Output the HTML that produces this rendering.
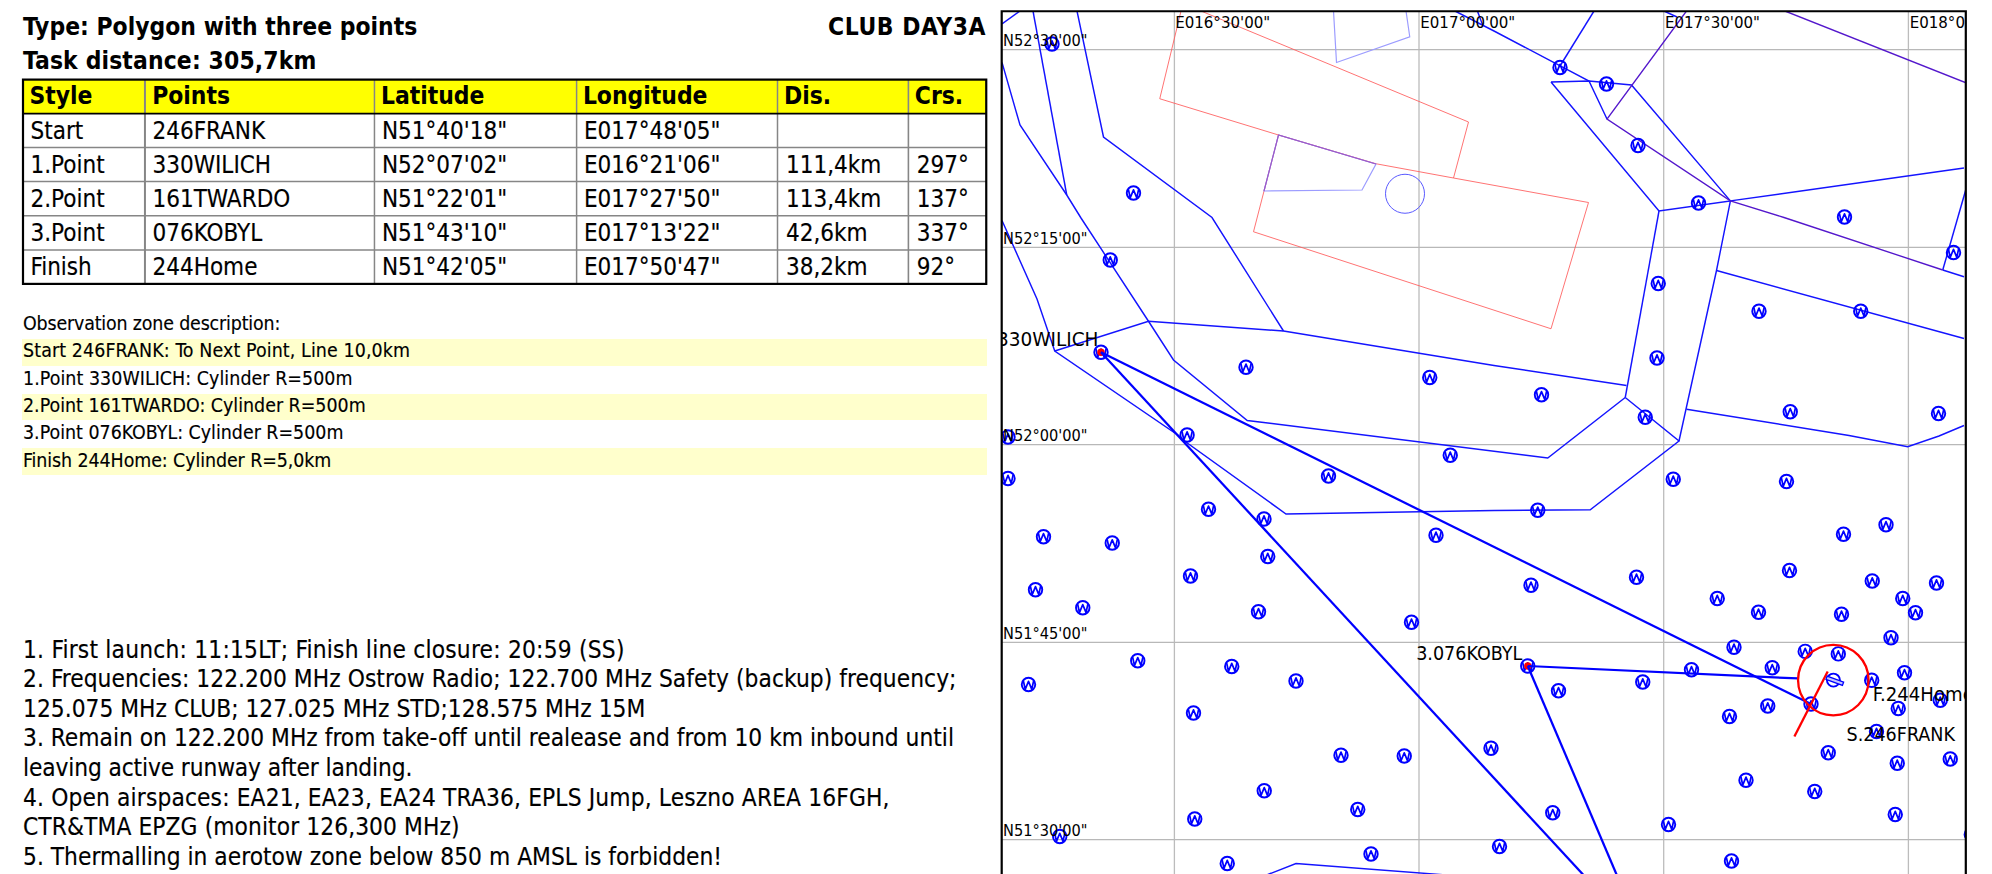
<!DOCTYPE html><html><head><meta charset="utf-8"><title>CLUB DAY3A task sheet</title><style>
html,body{margin:0;padding:0;background:#fff;}
body{width:1992px;height:874px;position:relative;overflow:hidden;font-family:'DejaVu Sans Condensed','DejaVu Sans','Liberation Sans',sans-serif;color:#000;}
.map{position:absolute;left:0;top:0;}
.h{position:absolute;left:23px;font-weight:bold;font-size:24.4px;line-height:34px;white-space:nowrap;}
#t1{top:10px;} #t2{top:44.1px;}
#cls{left:auto;right:1006px;top:10px;}
table{position:absolute;left:23px;top:79.6px;width:963.5px;height:204.3px;font-size:24px;border:0;
 display:grid;grid-template-columns:121.95px 229.5px 201.95px 201.1px 130.9px 1fr;grid-template-rows:34.05px 33.9px 34px 34.15px 34.2px 1fr;}
thead,tbody,tr{display:contents;}
td,th{display:block;box-sizing:border-box;padding:1px 0 0 7.5px;line-height:32px;text-align:left;white-space:nowrap;overflow:hidden;font-weight:normal;}
th{background:#ffff00;font-weight:bold;font-size:24.4px;padding:0.5px 0 0 6.5px;}
td:nth-child(n+5){padding-left:8.5px;}
th:nth-child(2){padding-left:7.2px;}
.oz{position:absolute;left:22px;width:965px;font-size:19.4px;line-height:21.7px;height:26.4px;white-space:nowrap;padding-left:1px;box-sizing:border-box;}
.y{background:#ffffcc;}
.n{position:absolute;left:23px;font-size:24.25px;line-height:29.5px;white-space:nowrap;}
.n,.oz,td{-webkit-text-stroke:0.15px #000;}
</style></head><body>
<div class="h" id="t1" style="letter-spacing:0.017px;">Type: Polygon with three points</div>
<div class="h" id="t2" style="letter-spacing:0.143px;">Task distance: 305,7km</div>
<div class="h" id="cls" style="letter-spacing:0.550px;">CLUB DAY3A</div>
<table>
<thead><tr><th>Style</th><th>Points</th><th>Latitude</th><th>Longitude</th><th>Dis.</th><th>Crs.</th></tr></thead><tbody>
<tr><td>Start</td><td>246FRANK</td><td>N51°40'18"</td><td>E017°48'05"</td><td></td><td></td></tr>
<tr><td>1.Point</td><td>330WILICH</td><td>N52°07'02"</td><td>E016°21'06"</td><td>111,4km</td><td>297°</td></tr>
<tr><td>2.Point</td><td>161TWARDO</td><td>N51°22'01"</td><td>E017°27'50"</td><td>113,4km</td><td>137°</td></tr>
<tr><td>3.Point</td><td>076KOBYL</td><td>N51°43'10"</td><td>E017°13'22"</td><td>42,6km</td><td>337°</td></tr>
<tr><td>Finish</td><td>244Home</td><td>N51°42'05"</td><td>E017°50'47"</td><td>38,2km</td><td>92°</td></tr>
</tbody></table>
<div class="oz" style="top:312.9px;letter-spacing:-0.161px;">Observation zone description:</div>
<div class="oz y" style="top:339.20px;padding-top:1.02px;letter-spacing:0.110px;">Start 246FRANK: To Next Point, Line 10,0km</div>
<div class="oz" style="top:366.45px;padding-top:1.13px;letter-spacing:0.061px;">1.Point 330WILICH: Cylinder R=500m</div>
<div class="oz y" style="top:393.70px;padding-top:1.24px;letter-spacing:0.000px;">2.Point 161TWARDO: Cylinder R=500m</div>
<div class="oz" style="top:420.95px;padding-top:1.35px;letter-spacing:0.003px;">3.Point 076KOBYL: Cylinder R=500m</div>
<div class="oz y" style="top:448.20px;padding-top:1.46px;letter-spacing:-0.077px;">Finish 244Home: Cylinder R=5,0km</div>
<div class="n" style="top:634.70px;letter-spacing:0.216px;">1. First launch: 11:15LT; Finish line closure: 20:59 (SS)</div>
<div class="n" style="top:664.26px;letter-spacing:0.053px;">2. Frequencies: 122.200 MHz Ostrow Radio; 122.700 MHz Safety (backup) frequency;</div>
<div class="n" style="top:693.82px;letter-spacing:0.017px;">125.075 MHz CLUB; 127.025 MHz STD;128.575 MHz 15M</div>
<div class="n" style="top:723.38px;letter-spacing:0.009px;">3. Remain on 122.200 MHz from take-off until realease and from 10 km inbound until</div>
<div class="n" style="top:752.94px;letter-spacing:-0.120px;">leaving active runway after landing.</div>
<div class="n" style="top:782.50px;letter-spacing:0.142px;">4. Open airspaces: EA21, EA23, EA24 TRA36, EPLS Jump, Leszno AREA 16FGH,</div>
<div class="n" style="top:812.06px;letter-spacing:0.091px;">CTR&amp;TMA EPZG (monitor 126,300 MHz)</div>
<div class="n" style="top:841.62px;letter-spacing:0.015px;">5. Thermalling in aerotow zone below 850 m AMSL is forbidden!</div>
<svg class="map" width="1992" height="874" viewBox="0 0 1992 874">
<defs><clipPath id="mc"><rect x="1002" y="11" width="963.8" height="870"/></clipPath>
<g id="wp"><circle r="6.75" fill="none" stroke="#0000ff" stroke-width="1.9"/><polyline points="-5.1,-3.6 -3.3,4.8 0,-3.1 3.3,4.8 5.1,-3.6" fill="none" stroke="#0000ff" stroke-width="1.7" stroke-linejoin="round"/></g></defs>
<g clip-path="url(#mc)" fill="none">
<line x1="1174.4" y1="11" x2="1174.4" y2="874" stroke="#bcbcbc" stroke-width="1.3"/>
<line x1="1419.0" y1="11" x2="1419.0" y2="874" stroke="#bcbcbc" stroke-width="1.3"/>
<line x1="1663.7" y1="11" x2="1663.7" y2="874" stroke="#bcbcbc" stroke-width="1.3"/>
<line x1="1908.4" y1="11" x2="1908.4" y2="874" stroke="#bcbcbc" stroke-width="1.3"/>
<line x1="1002" y1="49.7" x2="1965" y2="49.7" stroke="#b8b8b8" stroke-width="1.3"/>
<line x1="1002" y1="247.4" x2="1965" y2="247.4" stroke="#b8b8b8" stroke-width="1.3"/>
<line x1="1002" y1="444.6" x2="1965" y2="444.6" stroke="#b8b8b8" stroke-width="1.3"/>
<line x1="1002" y1="642.3" x2="1965" y2="642.3" stroke="#b8b8b8" stroke-width="1.3"/>
<line x1="1002" y1="839.6" x2="1965" y2="839.6" stroke="#b8b8b8" stroke-width="1.3"/>
<polyline points="1181,11 1159.75,98.75 1278.5,135 1376,163.75 1453.5,178 1468.5,122 1201,11" stroke="#ff5a5a" stroke-width="0.85"/>
<polyline points="1278.5,135 1253.5,231.75 1551,328.75 1588.5,202.5 1453.5,178" stroke="#ff5a5a" stroke-width="0.85"/>
<polyline points="1278.5,135 1376,164 1362,190 1264,191 1278.5,135" stroke="#9c9cff" stroke-width="1.2"/>
<polyline points="1333.5,11 1336.5,62.5 1409.75,36.75 1406,11" stroke="#9c9cff" stroke-width="1.2"/>
<polyline points="1264,191 1278.5,135 1376,164" stroke="#9a58c8" stroke-width="1.1"/>
<circle cx="1405" cy="193.75" r="19.5" stroke="#5a5aff" stroke-width="1"/>
<polyline points="1020,11 1002,24" stroke="#1414ff" stroke-width="1.45"/>
<polyline points="1033,11 1066.75,195" stroke="#1414ff" stroke-width="1.45"/>
<polyline points="1002,62.5 1020,125 1066.75,195 1081,218 1148.5,321.25 1173.5,360 1247.25,420.5 1547.75,458 1625.25,397.5" stroke="#1414ff" stroke-width="1.45"/>
<polyline points="1077,11 1103.5,137 1212,217.5 1283.5,331" stroke="#1414ff" stroke-width="1.45"/>
<polyline points="1054.75,351 1148.5,321.25 1283.5,331 1494,365.5 1626.5,385.5" stroke="#1414ff" stroke-width="1.45"/>
<polyline points="1002,220.5 1037,299 1054.75,351 1178.5,435.5 1181,438.5 1286,514 1494,510.5 1590.25,509.75 1679,441 1625.25,397.5" stroke="#1414ff" stroke-width="1.45"/>
<polyline points="1659,211 1625.25,397.5" stroke="#1414ff" stroke-width="1.45"/>
<polyline points="1551,82 1589,81 1631.5,85 1730.4,200.9 1659,211 1551,82" stroke="#1414ff" stroke-width="1.45"/>
<polyline points="1730.4,200.9 1964,168" stroke="#1414ff" stroke-width="1.45"/>
<polyline points="1455,11 1494,31 1589,81 1607,119" stroke="#1414ff" stroke-width="1.45"/>
<polyline points="1594,11 1560,66" stroke="#1414ff" stroke-width="1.45"/>
<polyline points="1477.4,11 1483,26" stroke="#1414ff" stroke-width="1.45"/>
<polyline points="1664,11 1677,17" stroke="#1414ff" stroke-width="1.45"/>
<polyline points="1942.75,270 1964,276.75" stroke="#1414ff" stroke-width="1.45"/>
<polyline points="1942.75,270 1966,189" stroke="#1414ff" stroke-width="1.45"/>
<polyline points="1730.4,200.9 1716.5,270.5 1679,441" stroke="#1414ff" stroke-width="1.45"/>
<polyline points="1716.5,270.5 1964,338.5" stroke="#1414ff" stroke-width="1.45"/>
<polyline points="1686.5,409.25 1849,435.5 1907.75,446.75 1939,436 1964,425.5" stroke="#1414ff" stroke-width="1.45"/>
<polyline points="1264,876 1296,863.5 1436,874.2 1462,876.2" stroke="#1414ff" stroke-width="1.45"/>
<polyline points="1686.5,11 1607,119 1730.4,200.9 1784,217.5 1942.75,270" stroke="#5418cc" stroke-width="1.35"/>
<polyline points="1785,11 1966,82.8" stroke="#5418cc" stroke-width="1.35"/>
<use href="#wp" x="1052" y="44"/>
<use href="#wp" x="1133.5" y="193"/>
<use href="#wp" x="1560" y="67.5"/>
<use href="#wp" x="1606.5" y="84"/>
<use href="#wp" x="1638" y="145.5"/>
<use href="#wp" x="1698.5" y="203"/>
<use href="#wp" x="1844.5" y="217"/>
<use href="#wp" x="1110.25" y="260"/>
<use href="#wp" x="1246" y="367.25"/>
<use href="#wp" x="1429.75" y="377.5"/>
<use href="#wp" x="1187.1" y="435"/>
<use href="#wp" x="1008" y="437"/>
<use href="#wp" x="1953.5" y="252.5"/>
<use href="#wp" x="1658.25" y="283.5"/>
<use href="#wp" x="1759" y="311.25"/>
<use href="#wp" x="1860.75" y="311.25"/>
<use href="#wp" x="1657" y="358"/>
<use href="#wp" x="1541.5" y="394.75"/>
<use href="#wp" x="1645.25" y="417.25"/>
<use href="#wp" x="1790.25" y="411.75"/>
<use href="#wp" x="1938.5" y="413.5"/>
<use href="#wp" x="1008" y="478.5"/>
<use href="#wp" x="1043.5" y="536.75"/>
<use href="#wp" x="1112.25" y="543"/>
<use href="#wp" x="1035.5" y="589.75"/>
<use href="#wp" x="1082.75" y="607.75"/>
<use href="#wp" x="1208.5" y="509.25"/>
<use href="#wp" x="1264" y="519"/>
<use href="#wp" x="1267.75" y="556.5"/>
<use href="#wp" x="1190.5" y="576"/>
<use href="#wp" x="1258.5" y="611.75"/>
<use href="#wp" x="1328.5" y="476"/>
<use href="#wp" x="1450.25" y="455.25"/>
<use href="#wp" x="1436" y="535.25"/>
<use href="#wp" x="1411.5" y="622.25"/>
<use href="#wp" x="1537.75" y="510.25"/>
<use href="#wp" x="1673.25" y="479.25"/>
<use href="#wp" x="1786.5" y="481.5"/>
<use href="#wp" x="1886" y="524.75"/>
<use href="#wp" x="1843.5" y="534.25"/>
<use href="#wp" x="1531" y="585.25"/>
<use href="#wp" x="1636.5" y="577.25"/>
<use href="#wp" x="1789.5" y="570.5"/>
<use href="#wp" x="1872.25" y="581"/>
<use href="#wp" x="1936.5" y="583"/>
<use href="#wp" x="1717.25" y="598.5"/>
<use href="#wp" x="1902.75" y="598.5"/>
<use href="#wp" x="1758.5" y="612.25"/>
<use href="#wp" x="1841.5" y="614.25"/>
<use href="#wp" x="1915.5" y="612.75"/>
<use href="#wp" x="1891" y="637.75"/>
<use href="#wp" x="1734" y="647.25"/>
<use href="#wp" x="1805.2" y="651.4"/>
<use href="#wp" x="1838.3" y="653.9"/>
<use href="#wp" x="1137.75" y="660.75"/>
<use href="#wp" x="1028.5" y="684.5"/>
<use href="#wp" x="1231.75" y="666.5"/>
<use href="#wp" x="1296" y="681"/>
<use href="#wp" x="1193.5" y="713"/>
<use href="#wp" x="1341" y="755.25"/>
<use href="#wp" x="1404.25" y="756"/>
<use href="#wp" x="1491" y="748.25"/>
<use href="#wp" x="1264.25" y="790.75"/>
<use href="#wp" x="1357.75" y="809.5"/>
<use href="#wp" x="1194.75" y="819"/>
<use href="#wp" x="1059.75" y="836.5"/>
<use href="#wp" x="1371" y="854"/>
<use href="#wp" x="1227.25" y="863.5"/>
<use href="#wp" x="1558.5" y="690.75"/>
<use href="#wp" x="1642.75" y="682"/>
<use href="#wp" x="1691.5" y="669.75"/>
<use href="#wp" x="1772.25" y="667.75"/>
<use href="#wp" x="1871.7" y="680.3"/>
<use href="#wp" x="1904.5" y="672.75"/>
<use href="#wp" x="1767.75" y="706"/>
<use href="#wp" x="1811" y="704"/>
<use href="#wp" x="1729.5" y="716.5"/>
<use href="#wp" x="1898.25" y="708.5"/>
<use href="#wp" x="1940.25" y="700.25"/>
<use href="#wp" x="1876.5" y="731.5"/>
<use href="#wp" x="1828.25" y="752.75"/>
<use href="#wp" x="1897.25" y="763.25"/>
<use href="#wp" x="1950.25" y="759"/>
<use href="#wp" x="1746" y="780.25"/>
<use href="#wp" x="1814.75" y="791.5"/>
<use href="#wp" x="1895.25" y="814.5"/>
<use href="#wp" x="1552.75" y="812.75"/>
<use href="#wp" x="1668.5" y="824.5"/>
<use href="#wp" x="1499.5" y="846.5"/>
<use href="#wp" x="1731.5" y="861"/>
<use href="#wp" x="1971.3" y="834.5"/>
<use href="#wp" x="1101" y="352.25"/><circle cx="1101" cy="352.25" r="3.7" fill="#ff0000"/>
<use href="#wp" x="1527.75" y="666"/><circle cx="1527.75" cy="666" r="3.7" fill="#ff0000"/>
<g stroke="#0000ff" stroke-width="2.25" stroke-linecap="butt">
<line x1="1811" y1="704" x2="1101" y2="352.25"/>
<line x1="1101" y1="352.25" x2="1588.1" y2="880"/>
<line x1="1618.9" y1="880" x2="1527.75" y2="666"/>
<line x1="1527.75" y1="666" x2="1798.1" y2="678.45"/>
</g>
<circle cx="1833.3" cy="680.05" r="35.25" stroke="#ff0000" stroke-width="2.3"/>
<line x1="1794.4" y1="736.4" x2="1827.7" y2="671.5" stroke="#ff0000" stroke-width="2.3"/>
<circle cx="1833.4" cy="680.1" r="6.5" stroke="#0000ff" stroke-width="1.9"/>
<rect x="-8.75" y="-1.75" width="17.5" height="3.5" fill="#c4c4ff" stroke="#0000ff" stroke-width="1.3" transform="translate(1834.8,680.8) rotate(20)"/>
<g font-family="'DejaVu Sans Condensed','DejaVu Sans','Liberation Sans',sans-serif">
<text x="1175.2" y="28" font-size="16.4" textLength="95" lengthAdjust="spacingAndGlyphs" fill="#000" stroke="none">E016°30'00"</text>
<text x="1420.3" y="28" font-size="16.4" textLength="95" lengthAdjust="spacingAndGlyphs" fill="#000" stroke="none">E017°00'00"</text>
<text x="1665" y="28" font-size="16.4" textLength="95" lengthAdjust="spacingAndGlyphs" fill="#000" stroke="none">E017°30'00"</text>
<text x="1909.7" y="28" font-size="16.4" textLength="95" lengthAdjust="spacingAndGlyphs" fill="#000" stroke="none">E018°00'00"</text>
<text x="1003" y="46.3" font-size="16.4" textLength="84.5" lengthAdjust="spacingAndGlyphs" fill="#000" stroke="none">N52°30'00"</text>
<text x="1003" y="243.9" font-size="16.4" textLength="84.5" lengthAdjust="spacingAndGlyphs" fill="#000" stroke="none">N52°15'00"</text>
<text x="1003" y="441" font-size="16.4" textLength="84.5" lengthAdjust="spacingAndGlyphs" fill="#000" stroke="none">N52°00'00"</text>
<text x="1003" y="638.8" font-size="16.4" textLength="84.5" lengthAdjust="spacingAndGlyphs" fill="#000" stroke="none">N51°45'00"</text>
<text x="1003" y="836.1" font-size="16.4" textLength="84.5" lengthAdjust="spacingAndGlyphs" fill="#000" stroke="none">N51°30'00"</text>
<text x="997" y="345.9" font-size="19.7" textLength="101.5" lengthAdjust="spacingAndGlyphs" fill="#000" stroke="none">330WILICH</text>
<text x="1416.2" y="660" font-size="19.7" textLength="106" lengthAdjust="spacingAndGlyphs" fill="#000" stroke="none">3.076KOBYL</text>
<text x="1872.8" y="701.3" font-size="19.5" textLength="101" lengthAdjust="spacingAndGlyphs" fill="#000" stroke="none">F.244Home</text>
<text x="1846.5" y="741.2" font-size="19.5" textLength="108.5" lengthAdjust="spacingAndGlyphs" fill="#000" stroke="none">S.246FRANK</text>
</g>
</g>
<g fill="none" stroke="#868686" stroke-width="1.45">
<line x1="23" y1="147.55" x2="986" y2="147.55"/>
<line x1="23" y1="181.55" x2="986" y2="181.55"/>
<line x1="23" y1="215.7" x2="986" y2="215.7"/>
<line x1="23" y1="249.9" x2="986" y2="249.9"/>
<line x1="144.95" y1="80" x2="144.95" y2="284" stroke-width="2.0"/>
<line x1="374.46" y1="80" x2="374.46" y2="284" stroke-width="1.5"/>
<line x1="576.6" y1="80" x2="576.6" y2="284" stroke-width="1.5"/>
<line x1="777.5" y1="80" x2="777.5" y2="284" stroke-width="1.5"/>
<line x1="908.4" y1="80" x2="908.4" y2="284" stroke-width="1.6"/>
</g>
<line x1="23" y1="113.6" x2="986" y2="113.6" stroke="#000" stroke-width="1.9"/>
<rect x="23" y="79.6" width="963.25" height="204.3" fill="none" stroke="#000" stroke-width="2.2"/>
<path d="M1001.7,880 V11.25 H1965.8 V880" fill="none" stroke="#000" stroke-width="2.2"/>
</svg>
</body></html>
